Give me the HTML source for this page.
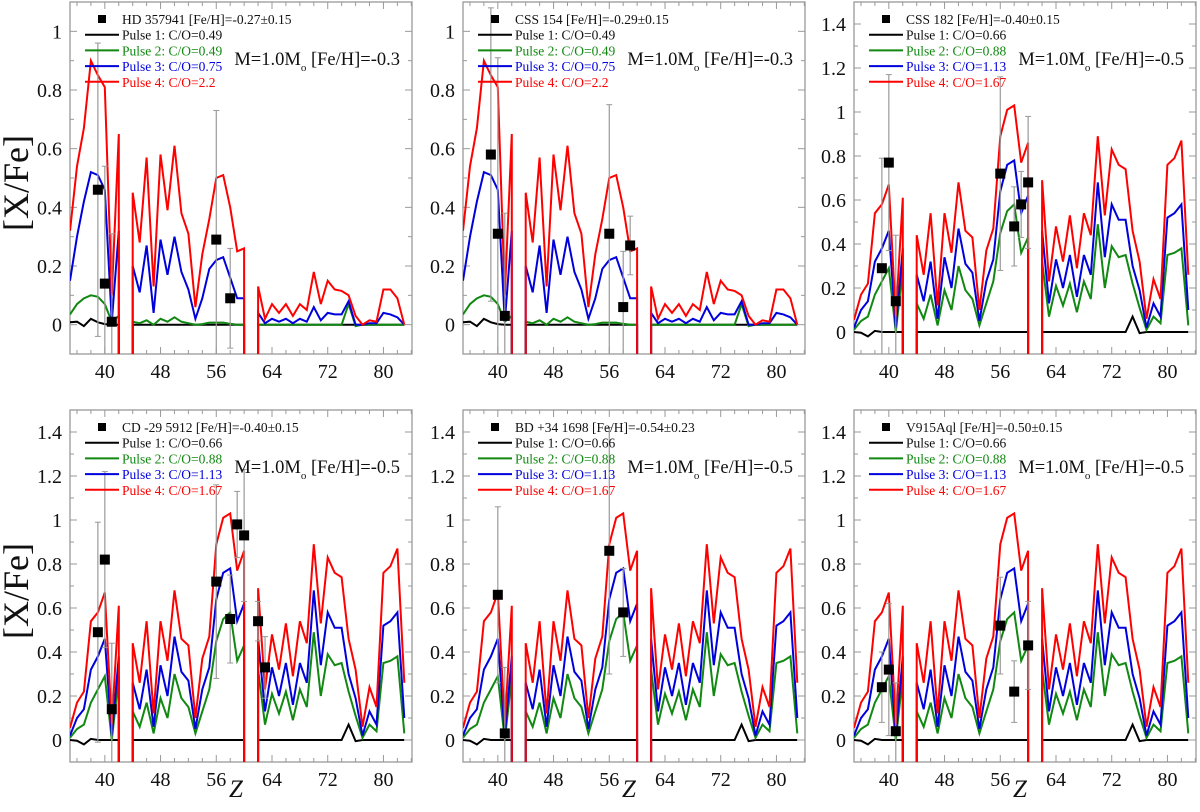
<!DOCTYPE html>
<html><head><meta charset="utf-8"><style>
html,body{margin:0;padding:0;background:#fff;overflow:hidden;width:1200px;height:812px;}
svg{display:block;font-family:"Liberation Serif",serif;overflow:hidden;}
</style></head><body>
<svg id="chart" width="1200" height="812" viewBox="0 0 1200 812"></svg>
<script>
const Z = [35,36,37,38,39,40,41,42,43,44,45,46,47,48,49,50,51,52,53,54,55,56,57,58,59,60,61,62,63,64,65,66,67,68,69,70,71,72,73,74,75,76,77,78,79,80,81,82,83];
const redA = [0.32,0.54,0.67,0.90,0.85,0.81,0.10,0.65,-5,0.45,0.28,0.57,0.13,0.58,0.39,0.61,0.38,0.31,0.06,0.24,0.36,0.50,0.51,0.40,0.25,0.26,-5,0.13,0.02,0.07,0.04,0.07,0.03,0.07,0.05,0.18,0.07,0.15,0.12,0.115,0.10,0.03,0.00,0.015,0.01,0.12,0.12,0.09,0.00];
const blueA = [0.15,0.30,0.42,0.52,0.51,0.46,0.01,0.32,-5,0.20,0.11,0.27,0.04,0.29,0.17,0.30,0.18,0.12,0.02,0.09,0.19,0.22,0.23,0.16,0.09,0.09,-5,0.04,0.005,0.02,0.01,0.02,0.005,0.02,0.01,0.06,0.015,0.04,0.035,0.035,0.08,0.00,0.00,0.005,0.005,0.04,0.035,0.025,0.00];
const greenA = [0.035,0.07,0.09,0.10,0.095,0.07,0.01,0.03,-5,0.01,0.005,0.015,0.0,0.02,0.01,0.025,0.01,0.005,0.0,0.002,0.007,0.007,0.007,0.003,0.0,0.0,-5,0,0,0,0,0,0,0,0,0,0,0,0,0,0.07,-0.005,0,0,0,0,0,0,0];
const blackA = [0.008,0.01,-0.005,0.02,0.008,0.002,0,0,-5,0,0,0,0,0,0,0,0,0,0,0,0,0,0,0,0,0,-5,0,0,0,0,0,0,0,0,0,0,0,0,0,0,0,0,0,0,0,0,0,0];
const redB = [0.055,0.17,0.22,0.54,0.58,0.67,0.07,0.61,-5,0.44,0.26,0.54,0.12,0.54,0.36,0.68,0.46,0.43,0.10,0.37,0.47,0.89,1.01,1.03,0.77,0.86,-5,0.69,0.23,0.48,0.32,0.53,0.29,0.54,0.44,0.89,0.53,0.83,0.76,0.74,0.46,0.32,0.06,0.24,0.15,0.76,0.79,0.87,0.26];
const blueB = [0.02,0.10,0.14,0.32,0.38,0.46,0.02,0.38,-5,0.26,0.14,0.32,0.06,0.34,0.20,0.47,0.31,0.27,0.05,0.23,0.33,0.64,0.76,0.78,0.54,0.62,-5,0.46,0.13,0.33,0.20,0.35,0.16,0.35,0.26,0.68,0.34,0.58,0.51,0.51,0.30,0.19,0.02,0.13,0.07,0.52,0.54,0.58,0.10];
const greenB = [0.01,0.05,0.07,0.17,0.23,0.29,0.00,0.29,-5,0.13,0.06,0.17,0.03,0.19,0.10,0.30,0.19,0.15,0.03,0.13,0.23,0.45,0.55,0.58,0.36,0.43,-5,0.32,0.07,0.21,0.12,0.22,0.09,0.23,0.15,0.49,0.20,0.39,0.34,0.35,0.22,0.11,0.01,0.07,0.04,0.35,0.36,0.38,0.03];
const blackB = [0,-0.003,-0.02,0.005,0,0,0,0,-5,0,0,0,0,0,0,0,0,0,0,0,0,0,0,0,0,0,-5,0,0,0,0,0,0,0,0,0,0,0,0,0,0.07,-0.005,0,0,0,0,0,0,0];
// star observations: [Z, value, error]
const star1 = [[39,0.46,0.5],[40,0.14,0.4],[41,0.01,0.3],[56,0.29,0.44],[58,0.09,0.17]];
const star2 = [[39,0.58,0.5],[40,0.31,0.6],[41,0.03,0.35],[56,0.31,0.44],[58,0.06,0.19],[59,0.27,0.1]];
const star3 = [[39,0.29,0.5],[40,0.77,0.4],[41,0.14,0.3],[56,0.72,0.44],[58,0.48,0.18],[59,0.58,0.15],[60,0.68,0.3]];
const star4 = [[39,0.49,0.5],[40,0.82,0.4],[41,0.14,0.3],[56,0.72,0.44],[58,0.55,0.2],[59,0.98,0.15],[60,0.93,0.3],[62,0.54,0.09],[63,0.33,0.14]];
const star5 = [[40,0.66,0.4],[41,0.03,0.3],[56,0.86,0.56],[58,0.58,0.2]];
const star6 = [[39,0.24,0.16],[40,0.32,0.3],[41,0.04,0.22],[56,0.52,0.22],[58,0.22,0.14],[60,0.43,0.2]];
const xTicks = [40,48,56,64,72,80];
const yTicksA = [0,0.2,0.4,0.6,0.8,1];
const yTicksB = [0,0.2,0.4,0.6,0.8,1,1.2,1.4];

const NS="http://www.w3.org/2000/svg";
const svg=document.getElementById('chart');
function mk(tag,attrs,parent){const e=document.createElementNS(NS,tag);for(const k in attrs)e.setAttribute(k,attrs[k]);(parent||svg).appendChild(e);return e;}

const panels=[
 {x:70,y:2,ymax:1.1,set:'A',star:star1,name:'HD 357941 [Fe/H]=-0.27±0.15',co:['0.49','0.49','0.75','2.2'],feh:'-0.3',ylab:true,zlab:false},
 {x:463,y:2,ymax:1.1,set:'A',star:star2,name:'CSS 154 [Fe/H]=-0.29±0.15',co:['0.49','0.49','0.75','2.2'],feh:'-0.3',ylab:false,zlab:false},
 {x:854,y:2,ymax:1.5,set:'B',star:star3,name:'CSS 182 [Fe/H]=-0.40±0.15',co:['0.66','0.88','1.13','1.67'],feh:'-0.5',ylab:false,zlab:false},
 {x:70,y:410,ymax:1.5,set:'B',star:star4,name:'CD -29 5912 [Fe/H]=-0.40±0.15',co:['0.66','0.88','1.13','1.67'],feh:'-0.5',ylab:true,zlab:true},
 {x:463,y:410,ymax:1.5,set:'B',star:star5,name:'BD +34 1698 [Fe/H]=-0.54±0.23',co:['0.66','0.88','1.13','1.67'],feh:'-0.5',ylab:false,zlab:true},
 {x:854,y:410,ymax:1.5,set:'B',star:star6,name:'V915Aql [Fe/H]=-0.50±0.15',co:['0.66','0.88','1.13','1.67'],feh:'-0.5',ylab:false,zlab:true}
];
const W=342,H=352,XMIN=35,XMAX=84.1,YMIN=-0.1;
const colors=['#000','#118811','#0000dd','#ff0000'];

panels.forEach((p,i)=>{
  const g=mk('g',{});
  
  
  const sx=z=>p.x+(z-XMIN)/(XMAX-XMIN)*W;
  const sy=v=>p.y+H-(v-YMIN)/(p.ymax-YMIN)*H;
  const syc=v=>Math.min(p.y+H+3,Math.max(p.y-3,sy(v)));
  const bot=p.y+H+3;
  const cid='clip'+i;
  const cp=mk('clipPath',{id:cid},g);mk('rect',{x:p.x,y:p.y,width:W,height:H},cp);
  const fr=mk('rect',{x:p.x,y:p.y,width:W,height:H,fill:'none',stroke:'#999','stroke-width':1.3},g);
  
  
  for(let z=36;z<=84;z+=2){
    const maj=(z%8===0); const L=maj?7:4; const X=sx(z);
    mk('line',{x1:X,x2:X,y1:p.y+H,y2:p.y+H-L,stroke:'#999'},g);
    mk('line',{x1:X,x2:X,y1:p.y,y2:p.y+L,stroke:'#999'},g);
  }
  xTicks.forEach(t=>{
    const tx=mk('text',{x:sx(t),y:p.y+H+24,'font-size':20,'text-anchor':'middle',fill:'#111'},g);
    tx.textContent=t;
    
    
  });
  const yt=p.ymax>1.2?yTicksB:yTicksA;
  for(let k=-1;k*0.1<=p.ymax+1e-9;k++){
    const v=k*0.1; const maj=(k>=0&&k%2===0); const L=maj?7:4; const Y=sy(v);
    mk('line',{x1:p.x,x2:p.x+L,y1:Y,y2:Y,stroke:'#999'},g);
    mk('line',{x1:p.x+W,x2:p.x+W-L,y1:Y,y2:Y,stroke:'#999'},g);
  }
  yt.forEach(t=>{
    const tx=mk('text',{x:p.x-8,y:sy(t)+7,'font-size':20,'text-anchor':'end',fill:'#111'},g);
    tx.textContent=(+t.toFixed(1)).toString();
    
    
  });
  const series=p.set==='A'?[blackA,greenA,blueA,redA]:[blackB,greenB,blueB,redB];
  const sg=mk('g',{'clip-path':'url(#'+cid+')'},g);
  series.forEach((s,j)=>{
    let d='';let gap=false;
    s.forEach((v,k)=>{
      const X=sx(Z[k]).toFixed(1);
      if(v<YMIN){
        if(k>0) d+='L'+sx(Z[k-1]).toFixed(1)+','+bot;
        gap=true; return;
      }
      if(k===0) d+='M'+X+','+syc(v).toFixed(1);
      else if(gap){ d+='M'+X+','+bot+'L'+X+','+syc(v).toFixed(1); gap=false; }
      else d+='L'+X+','+syc(v).toFixed(1);
    });
    const pl=mk('path',{d:d,fill:'none',stroke:colors[j],'stroke-width':2,'stroke-linejoin':'miter'},sg);
    
    
  });
  p.star.forEach(o=>{
    const X=sx(o[0]);
    const eb=mk('g',{},sg);
    
    
    mk('line',{x1:X,x2:X,y1:syc(o[1]+o[2]),y2:syc(o[1]-o[2]),stroke:'#999','stroke-width':1.2},eb);
    mk('line',{x1:X-3,x2:X+3,y1:syc(o[1]+o[2]),y2:syc(o[1]+o[2]),stroke:'#999'},eb);
    mk('line',{x1:X-3,x2:X+3,y1:syc(o[1]-o[2]),y2:syc(o[1]-o[2]),stroke:'#999'},eb);
    const sq=mk('rect',{x:X-5,y:sy(o[1])-5,width:10,height:10,fill:'#000'},g);
    
    
  });
  const lg=mk('g',{},g);
  
  
  const ly=p.y+17;
  mk('rect',{x:p.x+28,y:ly-4,width:8,height:8,fill:'#000'},lg);
  const t0=mk('text',{x:p.x+52,y:ly+5,'font-size':13.5,fill:'#111'},lg);t0.textContent=p.name;
  for(let j=0;j<4;j++){
    const yy=ly+15.7*(j+1);
    mk('line',{x1:p.x+15,x2:p.x+49,y1:yy,y2:yy,stroke:colors[j],'stroke-width':2},lg);
    const tt=mk('text',{x:p.x+52,y:yy+5,'font-size':13.5,fill:j==0?'#111':colors[j]},lg);
    tt.textContent='Pulse '+(j+1)+': C/O='+p.co[j];
    
    
  }
  const an=mk('text',{x:p.x+W-12,y:p.y+63,'font-size':18.5,'text-anchor':'end',fill:'#111'},g);
  
  
  an.innerHTML='M=1.0M<tspan dy="6" font-size="11">o</tspan><tspan dy="-6"> [Fe/H]='+p.feh+'</tspan>';
  if(p.ylab){
    const yl=mk('text',{x:0,y:0,'font-size':36,'text-anchor':'middle',fill:'#111',transform:'translate(28,'+(p.y+H/2+5)+') rotate(-90)'},g);
    yl.textContent='[X/Fe]';
    
    
  }
  if(p.zlab){
    const zl=mk('text',{x:p.x+W/2-5,y:797,'font-size':25,'font-style':'italic','text-anchor':'middle',fill:'#111'},g);
    zl.textContent='Z';
    
    
  }
});
</script>
</body></html>
